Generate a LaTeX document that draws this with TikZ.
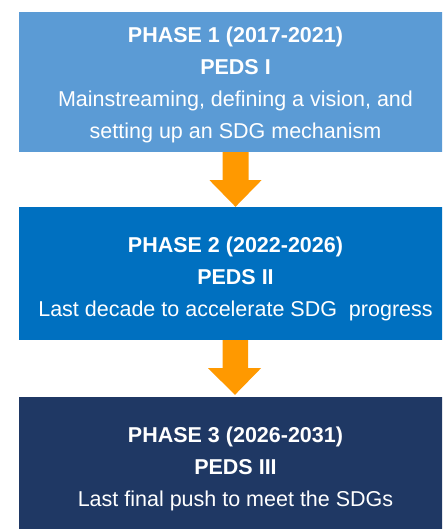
\documentclass[tikz,border=0pt]{standalone}
\usepackage{fontspec}
\setmainfont{Liberation Sans}
\usetikzlibrary{calc}
\definecolor{boxA}{RGB}{91,155,213}
\definecolor{boxB}{RGB}{0,112,192}
\definecolor{boxC}{RGB}{31,56,100}
\definecolor{arrowC}{RGB}{255,153,0}
\tikzset{
  phasebox/.style={rectangle, inner sep=0pt, minimum width=432pt, draw=none},
  phasetext/.style={text=white, align=center, inner sep=0pt, font=\fontsize{21.5}{32}\selectfont},
  blockarrow/.style={fill=arrowC, draw=none}
}
\begin{document}
\begin{tikzpicture}[x=1pt,y=-1pt]
\useasboundingbox (0,0) rectangle (442,529);
\clip (0,0) rectangle (442,529);
\node[phasebox, fill=boxA, minimum height=140pt] (b1) at (235,82) {};
\node[phasebox, fill=boxB, minimum height=133pt] (b2) at (235,273.5) {};
\node[phasebox, fill=boxC, minimum height=140pt] (b3) at (235,467) {};
\node[phasetext] (t1) at (235.5,85) {\textbf{PHASE 1 (2017-2021)}\\\textbf{PEDS I}\\Mainstreaming, defining a vision, and\\setting up an SDG mechanism};
\node[phasetext] (t2) at (235.5,278.5) {\textbf{PHASE 2 (2022-2026)}\\\textbf{PEDS II}\\Last decade to accelerate SDG\ \ progress};
\node[phasetext] (t3) at (235.5,469) {\textbf{PHASE 3 (2026-2031)}\\\textbf{PEDS III}\\Last final push to meet the SDGs};
\fill[blockarrow] ($(b1.south)+(-12.5,0)$) -- ($(b1.south)+(13.5,0)$) -- ($(b1.south)+(13.5,28)$) -- ($(b1.south)+(26.5,28)$) -- ($(b2.north)+(0.5,0)$) -- ($(b1.south)+(-25.5,28)$) -- ($(b1.south)+(-12.5,28)$) -- cycle;
\fill[blockarrow] ($(b2.south)+(-12.5,0)$) -- ($(b2.south)+(13,0)$) -- ($(b2.south)+(13,28)$) -- ($(b2.south)+(26,28)$) -- ($(b3.north)+(0,-2)$) -- ($(b2.south)+(-27,28)$) -- ($(b2.south)+(-12.5,28)$) -- cycle;
\end{tikzpicture}
\end{document}
